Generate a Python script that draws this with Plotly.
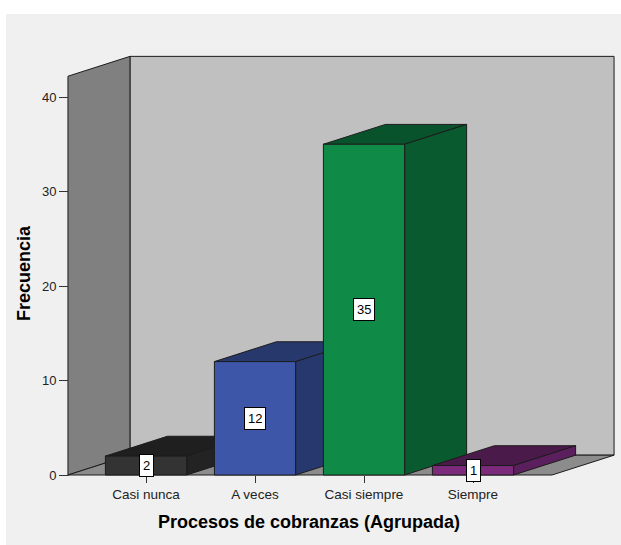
import plotly.graph_objects as go

# Frequency table
categories = ["Casi nunca", "A veces", "Casi siempre", "Siempre"]
frecuencias = [2, 12, 35, 1]
y_ticks = [0, 10, 20, 30, 40]

# Bar face colours (front, side, top)
front_colors = ["#333333", "#3d56a8", "#0f8a47", "#7b2a7c"]
side_colors = ["#232323", "#27386e", "#0a5a2f", "#5c1f5e"]
top_colors = ["#1f1f1f", "#26386c", "#08532b", "#4a1a4b"]

# 3-D box geometry in data units
BAR_W = 0.745
DX = 0.569          # depth offset along x (category units)
DY = 2.1            # depth offset along y (value units)
WALL_H = 42.2
X_LEFT = -0.716
X_RIGHT = 3.725

EDGE = "#1c1c1c"
FONT = "Liberation Sans, Arial, sans-serif"

# plot area in pixels
L, T, W, H = 63, 53, 555, 428
PX_PER_CAT = 109.0
PX_PER_VAL = 9.45
ORIGIN_X, ORIGIN_Y = 146.0, 475.0
x_range = [(L - ORIGIN_X) / PX_PER_CAT, (L + W - ORIGIN_X) / PX_PER_CAT]
y_range = [(ORIGIN_Y - (T + H)) / PX_PER_VAL, (ORIGIN_Y - T) / PX_PER_VAL]


def poly(xs, ys, color):
    return go.Scatter(
        x=list(xs) + [xs[0]], y=list(ys) + [ys[0]],
        mode="lines", fill="toself", fillcolor=color,
        line=dict(color=EDGE, width=1), hoverinfo="skip", showlegend=False,
    )


fig = go.Figure()

# walls and floor
fig.add_trace(poly([X_LEFT + DX, X_RIGHT + DX, X_RIGHT + DX, X_LEFT + DX],
                   [DY, DY, WALL_H + DY, WALL_H + DY], "#c0c0c0"))
fig.add_trace(poly([X_LEFT, X_LEFT + DX, X_LEFT + DX, X_LEFT],
                   [0, DY, WALL_H + DY, WALL_H], "#808080"))
fig.add_trace(poly([X_LEFT, X_RIGHT, X_RIGHT + DX, X_LEFT + DX],
                   [0, 0, DY, DY], "#8c8c8c"))

# bars, drawn left to right so nearer faces overlap correctly
for i, v in enumerate(frecuencias):
    xl, xr = i - BAR_W / 2, i + BAR_W / 2
    fig.add_trace(poly([xl, xr, xr + DX, xl + DX], [v, v, v + DY, v + DY], top_colors[i]))
    fig.add_trace(poly([xr, xr + DX, xr + DX, xr], [0, DY, v + DY, v], side_colors[i]))
    fig.add_trace(poly([xl, xr, xr, xl], [0, 0, v, v], front_colors[i]))

# value labels
for i, v in enumerate(frecuencias):
    fig.add_annotation(
        x=i, y=v / 2, text=str(v), showarrow=False,
        font=dict(family=FONT, size=13, color="#000000"),
        bgcolor="#ffffff", bordercolor="#000000", borderwidth=1, borderpad=3,
    )

# axis titles
fig.add_annotation(
    x=(309 - L) / W, y=(T + H - 522) / H, xref="paper", yref="paper",
    text="<b>Procesos de cobranzas (Agrupada)</b>", showarrow=False,
    font=dict(family=FONT, size=18, color="#000000"),
    xanchor="center", yanchor="middle",
)
fig.add_annotation(
    x=(24 - L) / W, y=(T + H - 273) / H, xref="paper", yref="paper",
    text="<b>Frecuencia</b>", showarrow=False, textangle=-90,
    font=dict(family=FONT, size=18, color="#000000"),
    xanchor="center", yanchor="middle",
)

# white margin strips around the grey panel
fig.add_shape(type="rect", xref="paper", yref="paper", layer="below",
              x0=-1, x1=3, y0=(T + H - 14) / H, y1=3,
              fillcolor="#ffffff", line=dict(width=0))
fig.add_shape(type="rect", xref="paper", yref="paper", layer="below",
              x0=-1, x1=(6 - L) / W, y0=-2, y1=3,
              fillcolor="#ffffff", line=dict(width=0))

fig.update_layout(
    width=621, height=545,
    margin=dict(l=L, r=621 - L - W, t=T, b=545 - T - H, pad=0),
    paper_bgcolor="#f0f0f0", plot_bgcolor="rgba(0,0,0,0)",
    hovermode=False, showlegend=False,
    xaxis=dict(
        range=x_range, showgrid=False, zeroline=False, showline=False,
        tickmode="array", tickvals=list(range(len(categories))), ticktext=categories,
        ticks="outside", ticklen=7, tickcolor="#333333", tickwidth=1,
        tickfont=dict(family=FONT, size=13.5, color="#222222"),
        anchor="free", position=(T + H - ORIGIN_Y) / H, ticklabelstandoff=0,
        fixedrange=True,
    ),
    yaxis=dict(
        range=y_range, showgrid=False, zeroline=False, showline=False,
        tickmode="array", tickvals=y_ticks,
        ticks="outside", ticklen=9, tickcolor="#333333", tickwidth=1,
        tickfont=dict(family=FONT, size=13, color="#222222"),
        anchor="free", position=(68 - L) / W, ticklabelstandoff=0,
        fixedrange=True,
    ),
)

fig.write_html("out.html")
